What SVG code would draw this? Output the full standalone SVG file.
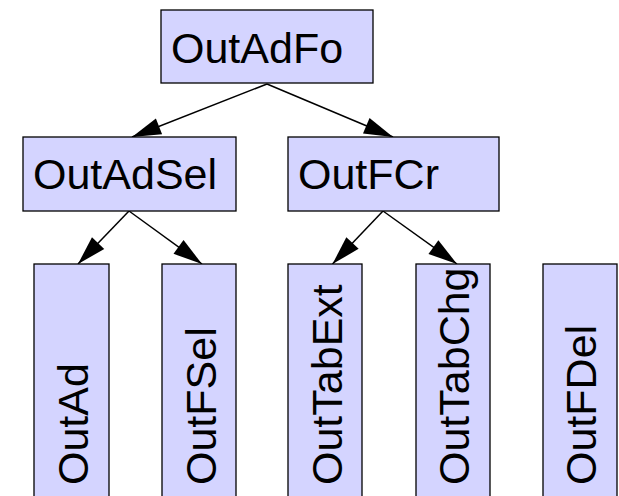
<svg xmlns="http://www.w3.org/2000/svg" width="619" height="496" viewBox="0 0 619 496">
<style>
.box{fill:#d4d4ff;stroke:#000;stroke-width:1.3}
.lbl{font-family:"Liberation Sans",Arial,sans-serif;font-size:43px;fill:#000}
.edge{stroke:#000;stroke-width:1.5;fill:none;marker-end:url(#ah)}
</style>
<defs>
<marker id="ah" markerUnits="userSpaceOnUse" markerWidth="32" markerHeight="18" refX="29" refY="8.5" orient="auto" overflow="visible">
<path d="M0,0 L29,8.5 L0,17 z" fill="#000"/>
</marker>
</defs>
<rect width="619" height="496" fill="#fff"/>
<g id="connectors">
<line class="edge" x1="267" y1="84" x2="132" y2="137"/>
<line class="edge" x1="267" y1="84" x2="393" y2="137"/>
<line class="edge" x1="129" y1="211" x2="78" y2="264"/>
<line class="edge" x1="129" y1="211" x2="202" y2="264"/>
<line class="edge" x1="383" y1="211" x2="332.5" y2="264"/>
<line class="edge" x1="383" y1="211" x2="457" y2="264"/>
</g>
<g id="OutAdFo">
<rect class="box" x="161" y="10" width="212" height="73"/>
<text class="lbl" x="171" y="63">OutAdFo</text>
</g>
<g id="OutAdSel">
<rect class="box" x="23" y="137" width="213" height="74"/>
<text class="lbl" x="33" y="189">OutAdSel</text>
</g>
<g id="OutFCr">
<rect class="box" x="288" y="137" width="211" height="74"/>
<text class="lbl" x="298" y="189">OutFCr</text>
</g>
<g id="OutAd">
<rect class="box" x="34" y="264" width="75" height="260"/>
<text class="lbl" transform="translate(87.5 485) rotate(-90)">OutAd</text>
</g>
<g id="OutFSel">
<rect class="box" x="162" y="264" width="74" height="260"/>
<text class="lbl" transform="translate(215.5 485) rotate(-90)">OutFSel</text>
</g>
<g id="OutTabExt">
<rect class="box" x="288" y="264" width="74" height="260"/>
<text class="lbl" transform="translate(341.5 485) rotate(-90)">OutTabExt</text>
</g>
<g id="OutTabChg">
<rect class="box" x="416" y="264" width="74" height="260"/>
<text class="lbl" transform="translate(468.5 485) rotate(-90)">OutTabChg</text>
</g>
<g id="OutFDel">
<rect class="box" x="543" y="264" width="74" height="260"/>
<text class="lbl" transform="translate(595.5 485) rotate(-90)">OutFDel</text>
</g>
</svg>
